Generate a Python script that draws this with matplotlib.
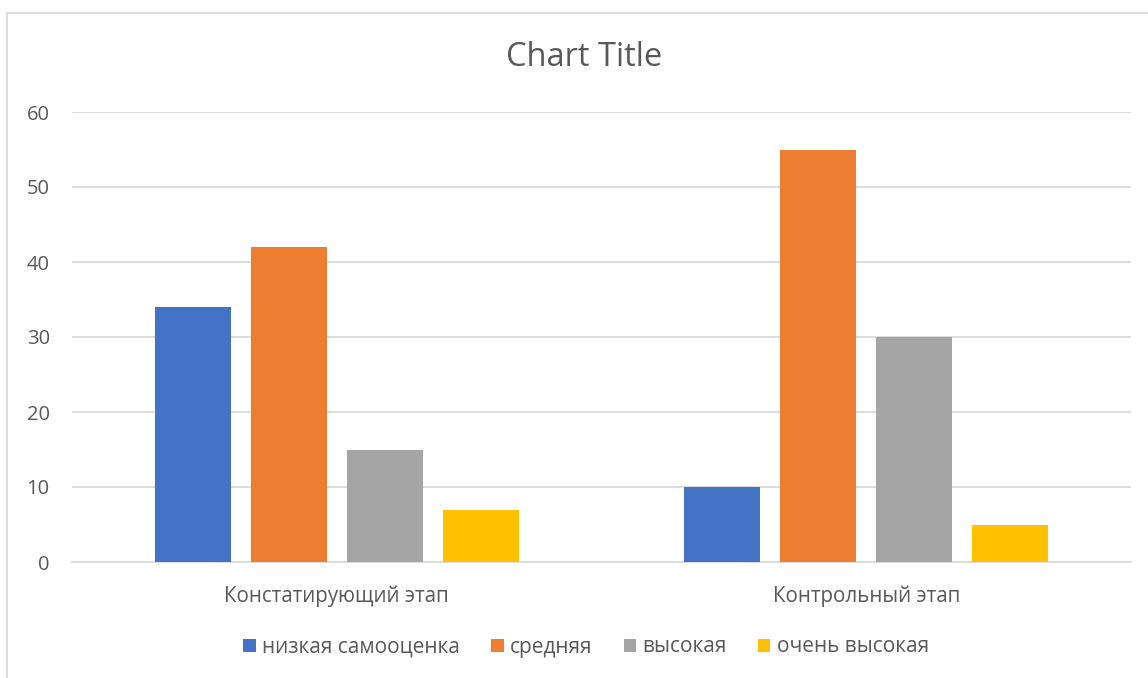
import matplotlib.pyplot as plt
import numpy as np
from matplotlib.patches import Rectangle

plt.rcParams['font.family'] = ['Open Sans', 'DejaVu Sans']

stages = ["Констатирующий этап", "Контрольный этап"]
series = ["низкая самооценка", "средняя", "высокая", "очень высокая"]
low = [34, 10]
mid = [42, 55]
high = [15, 30]
very_high = [7, 5]
colors = ["#4472C4", "#ED7D31", "#A5A5A5", "#FFC000"]
yticks = [0, 10, 20, 30, 40, 50, 60]

TXT = "#595959"

fig = plt.figure(figsize=(11.48, 6.78), dpi=100)
ax = fig.add_axes([72/1148, 1 - 562/678, (1131-72)/1148, (562-112)/678])

x = np.arange(len(stages))
width = 0.1435
step = 0.1813
for i, (vals, name, c) in enumerate(zip([low, mid, high, very_high], series, colors)):
    ax.bar(x + (i - 1.5) * step, vals, width, color=c, label=name, zorder=3)

ax.set_xlim(-0.5, 1.5)
ax.set_ylim(0, 60)
ax.set_yticks(yticks)
ax.set_xticks(x)
ax.set_xticklabels(stages)
ax.yaxis.grid(True, color="#D9D9D9", linewidth=1.3, zorder=0)
for s in ["top", "right", "left"]:
    ax.spines[s].set_visible(False)
ax.spines["bottom"].set_color("#D9D9D9")
ax.spines["bottom"].set_linewidth(1.3)
ax.tick_params(axis="both", length=0, colors=TXT)
ax.tick_params(axis="y", pad=16, labelsize=14.5)
ax.tick_params(axis="x", pad=17, labelsize=14.8)

fig.text(584/1148, 1 - 57/678, "Chart Title", ha="center", va="center",
         fontsize=23.5, color=TXT)

leg = fig.legend(loc="center", bbox_to_anchor=(586/1148, 1 - 647/678), ncol=4,
                 frameon=False, fontsize=15, handlelength=0.6, handleheight=0.6,
                 handletextpad=0.3, columnspacing=1.5)
for t in leg.get_texts():
    t.set_color(TXT)

fig.add_artist(Rectangle((7/1148, -0.1), 1.2, 1 - 13/678 + 0.1,
                         transform=fig.transFigure, fill=False,
                         edgecolor="#D9D9D9", linewidth=1.3))

fig.savefig("out.png", dpi=100)
